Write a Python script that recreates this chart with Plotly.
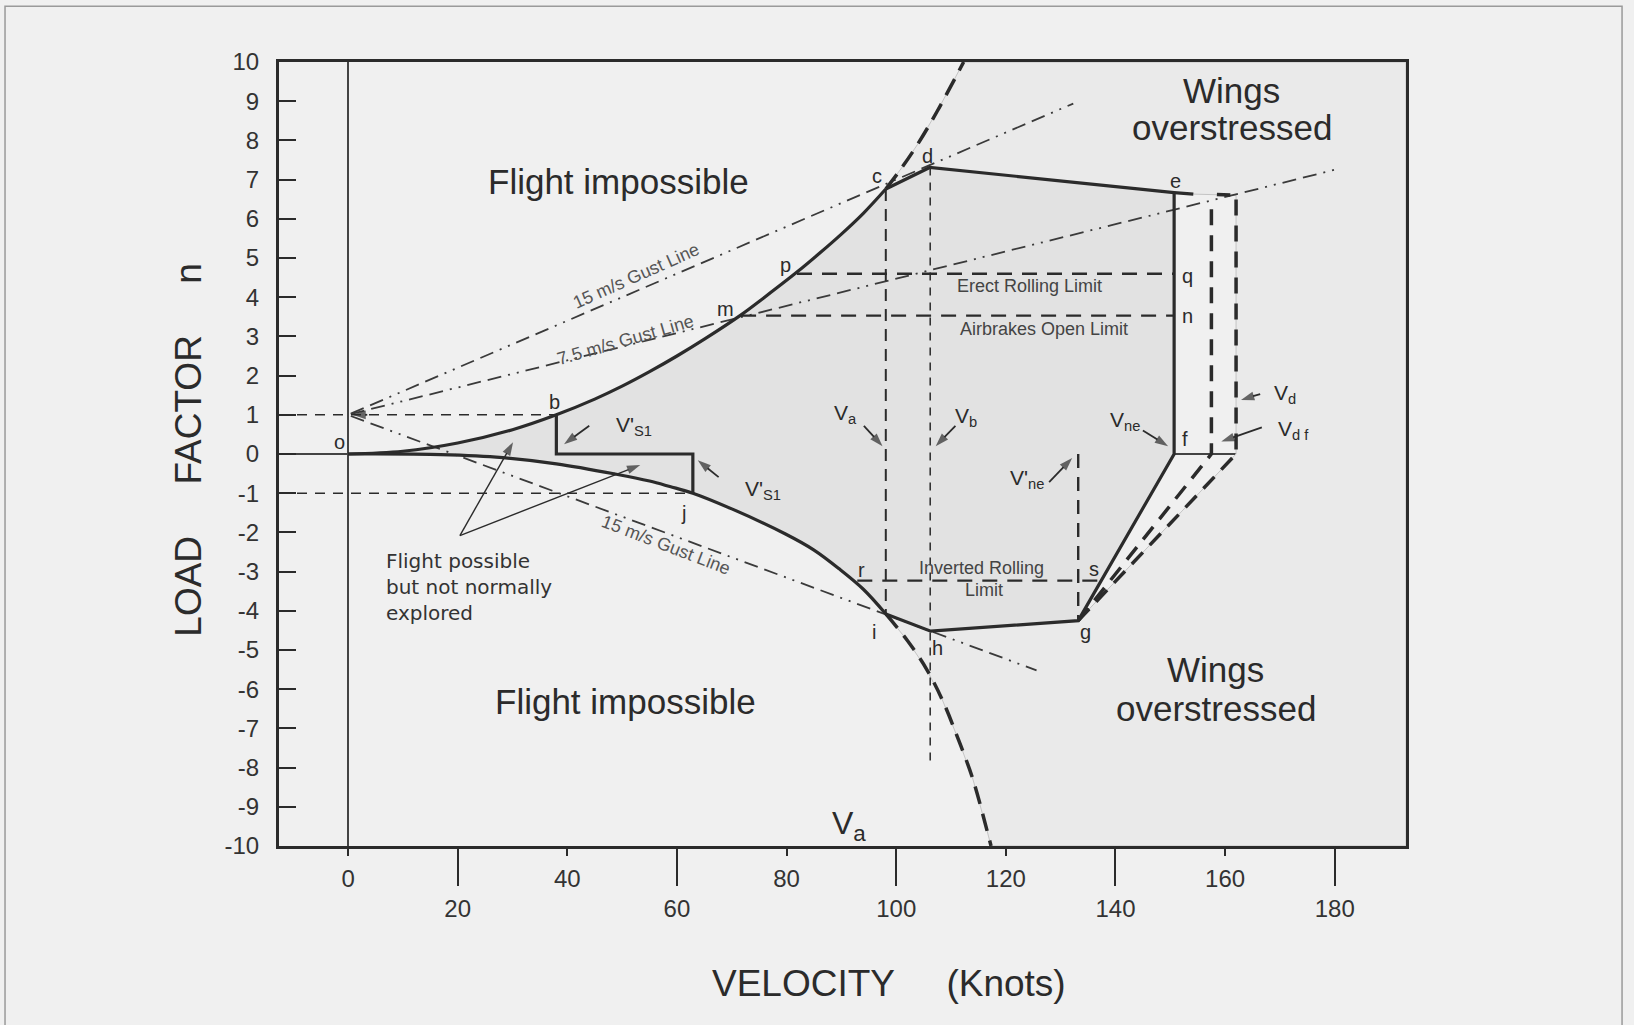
import plotly.graph_objects as go

# ---- values (velocity in knots, load factor n) ----
# positive stall boundary o -> c
v_up = [0, 10, 20, 30, 38, 45, 50, 55, 60, 65, 71.7, 76, 81.9, 86, 90, 94, 98.1]
n_up = [0, 0.07, 0.28, 0.62, 1.0, 1.4, 1.73, 2.1, 2.5, 2.93, 3.55, 4.0, 4.64, 5.12, 5.61, 6.14, 6.76]
# dashed continuation above c
v_up_ext = [98.1, 101, 103.9, 107.5, 112.3]
n_up_ext = [6.76, 7.3, 7.9, 8.75, 10.0]
# negative stall boundary o -> i
v_lo = [0, 15, 27, 38, 48.7, 55, 58.7, 62.9, 70, 79.8, 85, 89.6, 94, 98.1]
n_lo = [0, -0.01, -0.08, -0.25, -0.51, -0.69, -0.83, -1.0, -1.4, -2.04, -2.45, -2.93, -3.45, -4.08]
# dashed continuation below i
v_lo_ext = [98.1, 102, 105.5, 108.5, 111.3, 114, 116.5, 117.3]
n_lo_ext = [-4.08, -4.75, -5.48, -6.3, -7.27, -8.3, -9.57, -10]

# envelope corners
pt_c = (98.1, 6.76)
pt_d = (106.1, 7.31)
pt_e = (150.7, 6.67)
pt_e_ext = (154.2, 6.63)
pt_f = (150.7, 0)
pt_g = (133.2, -4.25)
pt_h = (106.3, -4.52)
pt_i = (98.1, -4.08)

# gust lines from (0, 1)
gust15_up_v = [0.5, 132.3]
gust15_up_n = [1.03, 8.94]
gust75_up_v = [0.5, 180]
gust75_up_n = [1.02, 7.25]
gust15_lo_v = [0.5, 125.6]
gust15_lo_n = [0.97, -5.52]

# speeds and limits
v_s1 = 38.0
v_s1_inv = 62.9
v_a = 98.1
v_b = 106.2
v_ne_inv = 133.2
v_df = 157.5
v_d = 162.0
n_vd_top = 6.6
v_p, v_m, v_r = 81.9, 71.7, 92.9
v_q_end, v_s_end = 150.7, 137.3
n_erect_roll = 4.6
n_airbrake = 3.53
n_inv_roll = -3.23
vb_bottom = -7.9

# pointer arrows: (tail v, tail n, head v, head n)
arrows = [
    (44.0, 0.72, 39.4, 0.25),     # V's1 (positive)
    (67.6, -0.59, 63.8, -0.16),   # V's1 (negative)
    (94.1, 0.72, 97.5, 0.2),      # Va
    (110.8, 0.72, 107.2, 0.2),    # Vb
    (145.0, 0.6, 149.6, 0.2),     # Vne
    (127.9, -0.72, 132.1, -0.1),  # V'ne
    (166.4, 1.53, 162.9, 1.38),   # Vd
    (166.7, 0.68, 159.3, 0.32),   # Vdf
    (3.5, 1.0, 0.8, 1.0),         # n = 1 at zero speed
    (20.4, -2.08, 30.1, 0.3),     # flight possible ...
    (20.4, -2.08, 53.3, -0.28),
]

x_range = [-12.6, 193.0]
y_range = [-10, 10]
x_ticks_long = [20, 60, 100, 140, 180]
x_ticks_short = [0, 40, 80, 120, 160]
y_ticks = list(range(-10, 11))
y_ticktext = [str(v) for v in y_ticks]

FONT = "Liberation Sans, Arial, sans-serif"
INK = "#2b2b2b"
BG = "#f0f0f0"

fig = go.Figure()


def line(xs, ys, width=3.2, dash="solid", color=INK, shape="linear"):
    fig.add_trace(go.Scatter(x=xs, y=ys, mode="lines", hoverinfo="skip",
                             line=dict(color=color, width=width, dash=dash, shape=shape)))


# shaded regions
over_v = [v_up_ext[-1], x_range[1], x_range[1], v_lo_ext[-1]] + v_lo_ext[::-1] + \
    [pt_h[0], pt_g[0], v_d, v_d, pt_e_ext[0], pt_e[0], pt_d[0]] + v_up_ext
over_n = [y_range[1], y_range[1], y_range[0], y_range[0]] + n_lo_ext[::-1] + \
    [pt_h[1], pt_g[1], 0, n_vd_top, pt_e_ext[1], pt_e[1], pt_d[1]] + n_up_ext
fig.add_trace(go.Scatter(x=over_v, y=over_n, mode="lines", fill="toself",
                         fillcolor="#eaeaea", line=dict(color="#c4c4c4", width=1),
                         hoverinfo="skip"))

env_v = v_up + [pt_d[0], pt_e[0], pt_f[0], pt_g[0], pt_h[0]] + v_lo[::-1]
env_n = n_up + [pt_d[1], pt_e[1], pt_f[1], pt_g[1], pt_h[1]] + n_lo[::-1]
fig.add_trace(go.Scatter(x=env_v, y=env_n, mode="lines", fill="toself",
                         fillcolor="#e2e2e2", line=dict(width=0), hoverinfo="skip"))

# gust lines
gust_dash = "14px,7px,14px,7px,2px,7px,2px,7px"
line(gust15_up_v, gust15_up_n, 1.8, gust_dash, "#3a3a3a")
line(gust75_up_v, gust75_up_n, 1.8, gust_dash, "#3a3a3a")
line(gust15_lo_v, gust15_lo_n, 1.8, gust_dash, "#3a3a3a")

# n = +1 / -1 reference dashes
line([x_range[0], v_s1], [1, 1], 1.5, "10px,8px")
line([x_range[0], v_s1_inv], [-1, -1], 1.5, "10px,8px")

# rolling / airbrake limits
line([v_p, v_q_end], [n_erect_roll, n_erect_roll], 2.4, "15px,10px")
line([v_m, v_q_end], [n_airbrake, n_airbrake], 2.4, "15px,10px")
line([v_r, v_s_end], [n_inv_roll, n_inv_roll], 2.4, "15px,10px")

# vertical speed markers
line([v_a, v_a], [pt_c[1], pt_i[1]], 2.0, "12px,8px")
line([v_b, v_b], [pt_d[1], vb_bottom], 1.5, "8px,7px")
line([v_ne_inv, v_ne_inv], [0, pt_g[1]], 2.4, "14px,9px")

# stall line continuations
line(v_up_ext, n_up_ext, 3.5, "18px,10px", shape="spline")
line(v_lo_ext, n_lo_ext, 3.5, "18px,10px", shape="spline")

# dive speed lines
line([pt_g[0], v_df, v_df], [pt_g[1], 0, n_vd_top - 0.1], 3.5, "16px,10px")
line([pt_g[0], v_d, v_d, v_df + 1], [pt_g[1], 0, n_vd_top, n_vd_top + 0.02], 3.5, "16px,10px")

# envelope boundary
line(v_up, n_up, shape="spline")
line([pt_c[0], pt_d[0], pt_e[0], pt_e_ext[0]], [pt_c[1], pt_d[1], pt_e[1], pt_e_ext[1]])
line([pt_e[0], pt_f[0], pt_g[0], pt_h[0], pt_i[0]], [pt_e[1], pt_f[1], pt_g[1], pt_h[1], pt_i[1]])
line(v_lo, n_lo, shape="spline")
line([v_s1, v_s1, v_s1_inv, v_s1_inv], [1, 0, 0, -1])

# pointer arrows (line with an arrow marker at the head)
for k, (x0, y0, x1, y1) in enumerate(arrows):
    w = 1.4 if k >= 9 else 1.8
    fig.add_trace(go.Scatter(x=[x0, x1], y=[y0, y1], mode="lines+markers", hoverinfo="skip",
                             line=dict(color=INK, width=w),
                             marker=dict(symbol="arrow", size=[0, 14], color=INK,
                                         angleref="previous", line=dict(width=0))))

ann = []


def text(x, y, s, size=20, color=INK, **kw):
    d = dict(x=x, y=y, xref="x", yref="y", text=s, showarrow=False,
             font=dict(family=FONT, size=size, color=color))
    d.update(kw)
    ann.append(d)


# region captions
text(49.4, 6.95, "Flight impossible", 35)
text(50.6, -6.31, "Flight impossible", 35)
text(161.2, 9.27, "Wings", 35)
text(161.2, 8.32, "overstressed", 35)
text(158.3, -5.5, "Wings", 35)
text(158.3, -6.48, "overstressed", 35)
text(6.6, -3.38, "Flight possible<br>but not normally<br>explored", 20, "#333",
     xanchor="left", align="left", font_family="DejaVu Sans")

# limit captions
text(124.3, 4.29, "Erect Rolling Limit", 18, "#444")
text(127.0, 3.18, "Airbrakes Open Limit", 18, "#444")
text(115.6, -2.91, "Inverted Rolling", 18, "#444")
text(116.0, -3.47, "Limit", 18, "#444")

# gust line captions
text(52.5, 4.55, "15 m/s Gust Line", 18, "#555", textangle=-24)
text(50.6, 2.9, "7.5 m/s Gust Line", 18, "#555", textangle=-16)
text(58.0, -2.32, "15 m/s Gust Line", 18, "#555", textangle=21)

# point letters
for px, py, s in [(-1.5, 0.3, "o"), (37.6, 1.32, "b"), (96.5, 7.1, "c"), (105.7, 7.61, "d"),
                  (150.9, 6.97, "e"), (79.8, 4.81, "p"), (68.8, 3.7, "m"), (153.1, 4.55, "q"),
                  (153.1, 3.53, "n"), (152.7, 0.38, "f"), (61.2, -1.5, "j"), (96.0, -4.55, "i"),
                  (107.6, -4.95, "h"), (134.6, -4.55, "g"), (93.7, -2.95, "r"), (136.1, -2.93, "s")]:
    text(px, py, s, 20)

# speed labels
text(48.5, 0.72, "V'<sub>S1</sub>", 21, xanchor="left")
text(72.1, -0.93, "V'<sub>S1</sub>", 21, xanchor="left")
text(90.8, 1.02, "V<sub>a</sub>", 21)
text(112.8, 0.94, "V<sub>b</sub>", 21)
text(141.7, 0.84, "V<sub>ne</sub>", 21)
text(123.8, -0.64, "V'<sub>ne</sub>", 21)
text(168.6, 1.53, "V<sub>d</sub>", 21, xanchor="left")
text(169.2, 0.6, "V<sub>d f</sub>", 21, xanchor="left")
text(91.4, -9.48, "V<sub>a</sub>", 32)

# axis titles
ann.append(dict(x=-0.0811, y=0.505, xref="paper", yref="paper", showarrow=False, textangle=-90,
                xanchor="center", yanchor="middle",
                text="LOAD\u00a0\u00a0\u00a0\u00a0\u00a0FACTOR\u00a0\u00a0\u00a0\u00a0\u00a0n",
                font=dict(family=FONT, size=37, color=INK)))
ann.append(dict(x=0.541, y=-0.175, xref="paper", yref="paper", showarrow=False,
                xanchor="center", yanchor="middle",
                text="VELOCITY\u00a0\u00a0\u00a0\u00a0\u00a0(Knots)",
                font=dict(family=FONT, size=37, color=INK)))

# outer frame
shapes = [dict(type="rect", xref="paper", yref="paper", x0=-0.2431, x1=1.1917, y0=-0.26, y1=1.071,
               line=dict(color="#9a9a9a", width=1.5), layer="below")]

fig.update_layout(
    width=1634, height=1025,
    margin=dict(l=279, r=228, t=62, b=179),
    paper_bgcolor=BG, plot_bgcolor=BG,
    showlegend=False,
    annotations=ann, shapes=shapes,
    xaxis=dict(range=x_range, tickvals=x_ticks_long, ticks="outside", ticklen=37, tickwidth=2,
               tickcolor=INK, showgrid=False, zeroline=True, zerolinecolor="#444",
               zerolinewidth=1.5, showline=True, linecolor=INK, linewidth=3, mirror=True,
               tickfont=dict(family=FONT, size=24, color="#333"), ticklabelstandoff=2),
    xaxis2=dict(range=x_range, overlaying="x", anchor="y", side="bottom",
                tickvals=x_ticks_short, ticks="outside", ticklen=9, tickwidth=2, tickcolor=INK,
                showgrid=False, zeroline=False, showline=False,
                tickfont=dict(family=FONT, size=24, color="#333"), ticklabelstandoff=2),
    yaxis=dict(range=y_range, tickvals=y_ticks, ticktext=y_ticktext, ticks="inside", ticklen=17,
               tickwidth=2, tickcolor=INK, showgrid=False, zeroline=True, zerolinecolor="#444",
               zerolinewidth=1.5, showline=True, linecolor=INK, linewidth=3, mirror=True,
               tickfont=dict(family=FONT, size=24, color="#333"), ticklabelstandoff=12),
)
# invisible point so xaxis2 is drawn
fig.add_trace(go.Scatter(x=[x_range[0]], y=[0], xaxis="x2", mode="markers",
                         marker=dict(opacity=0), hoverinfo="skip"))

fig.write_html("out.html", config={"displayModeBar": False},
               post_script="document.body.style.margin='0px';document.body.style.background='#f0f0f0';")
